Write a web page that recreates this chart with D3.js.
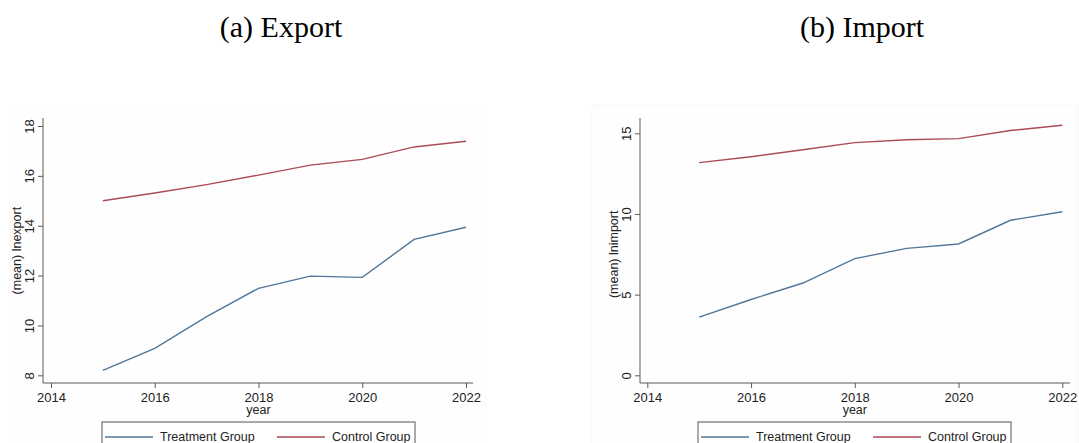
<!DOCTYPE html>
<html>
<head>
<meta charset="utf-8">
<script src="https://cdn.jsdelivr.net/npm/d3@7"></script>
<style>
  body { margin: 0; background: #fff; }
  svg { display: block; }
</style>
</head>
<body>
<svg id="chart" width="1079" height="443"></svg>
<script>
// values
var years = [2015, 2016, 2017, 2018, 2019, 2020, 2021, 2022];
var exportTreat = [8.2, 9.08, 10.35, 11.49, 11.98, 11.93, 13.45, 13.94];
var exportCtrl  = [15.0, 15.31, 15.65, 16.03, 16.43, 16.66, 17.16, 17.39];
var importTreat = [3.61, 4.7, 5.72, 7.23, 7.87, 8.14, 9.61, 10.14];
var importCtrl  = [13.18, 13.55, 13.98, 14.42, 14.6, 14.67, 15.17, 15.5];
var xTicks = [2014, 2016, 2018, 2020, 2022];
var exportTicks = [8, 10, 12, 14, 16, 18];
var importTicks = [0, 5, 10, 15];
var seriesNames = ["Treatment Group", "Control Group"];
var seriesColors = ["#52769a", "#ab4b55"];

var svg = d3.select("#chart");
var axisColor = "#5a5a5a";
var font = "Liberation Sans, Arial, sans-serif";

function panel(opt) {
  var g = svg.append("g");

  // faint graph region (Stata style)
  g.append("rect")
    .attr("x", opt.region[0]).attr("y", opt.region[1])
    .attr("width", opt.region[2]).attr("height", opt.region[3])
    .attr("fill", "#fefefe").attr("stroke", "#f8f8f8");

  var x = d3.scaleLinear().domain([2014, 2022]).range(opt.xRange);
  var y = d3.scaleLinear().domain(opt.yDomain).range(opt.yRange);

  // y axis
  var yAxisG = g.append("g")
    .attr("transform", "translate(" + opt.axisX + ",0)")
    .call(d3.axisLeft(y).tickValues(opt.yTicks).tickSize(5).tickFormat(d3.format("d")));
  yAxisG.select(".domain").remove();
  yAxisG.selectAll(".tick line").attr("stroke", axisColor);
  yAxisG.selectAll(".tick text")
    .attr("transform", "translate(-9,0) rotate(-90)")
    .attr("x", 0).attr("y", 0).attr("dy", 0)
    .attr("text-anchor", "middle")
    .style("font-family", font).style("font-size", "13px").attr("fill", "#222");
  g.append("line")
    .attr("x1", opt.axisX).attr("x2", opt.axisX)
    .attr("y1", opt.axisTop).attr("y2", opt.axisY)
    .attr("stroke", axisColor);

  // x axis
  var xAxisG = g.append("g")
    .attr("transform", "translate(0," + opt.axisY + ")")
    .call(d3.axisBottom(x).tickValues(xTicks).tickSize(5).tickFormat(d3.format("d")));
  xAxisG.select(".domain").remove();
  xAxisG.selectAll(".tick line").attr("stroke", axisColor);
  xAxisG.selectAll(".tick text")
    .attr("y", 19).attr("dy", 0)
    .style("font-family", font).style("font-size", "13px").attr("fill", "#222");
  g.append("line")
    .attr("x1", opt.axisX).attr("x2", opt.axisRight)
    .attr("y1", opt.axisY).attr("y2", opt.axisY)
    .attr("stroke", axisColor);

  // axis titles
  g.append("text")
    .attr("transform", "translate(" + (opt.axisX - 22) + "," + ((opt.yRange[0] + opt.yRange[1]) / 2) + ") rotate(-90)")
    .attr("text-anchor", "middle")
    .style("font-family", font).style("font-size", "12.5px").attr("fill", "#222")
    .text(opt.yTitle);
  g.append("text")
    .attr("x", (opt.xRange[0] + opt.xRange[1]) / 2).attr("y", opt.axisY + 31)
    .attr("text-anchor", "middle")
    .style("font-family", font).style("font-size", "12.5px").attr("fill", "#222")
    .text("year");

  // lines
  var line = d3.line()
    .x(function(d) { return x(d.year); })
    .y(function(d) { return y(d.value); });
  [opt.treat, opt.ctrl].forEach(function(vals, i) {
    var pts = years.map(function(yr, j) { return {year: yr, value: vals[j]}; });
    g.append("path")
      .datum(pts)
      .attr("d", line)
      .attr("fill", "none")
      .attr("stroke", seriesColors[i])
      .attr("stroke-width", 1.4);
  });

  // title
  svg.append("text")
    .attr("x", opt.titleX).attr("y", 37)
    .attr("text-anchor", "middle")
    .style("font-family", "Liberation Serif, Times New Roman, serif")
    .style("font-size", "30px").attr("fill", "#000")
    .text(opt.title);

  // legend
  var lg = g.append("g");
  lg.append("rect")
    .attr("x", opt.legendX).attr("y", 422)
    .attr("width", 313).attr("height", 30)
    .attr("fill", "#fff").attr("stroke", "#555");
  var item = lg.selectAll(".item")
    .data(seriesNames)
    .enter().append("g")
    .attr("class", "item")
    .attr("transform", function(d, i) { return "translate(" + (opt.legendX + 3 + i * 172) + ",0)"; });
  item.append("line")
    .attr("x1", 0).attr("x2", 48)
    .attr("y1", 437).attr("y2", 437)
    .attr("stroke", function(d, i) { return seriesColors[i]; })
    .attr("stroke-width", 1.4);
  item.append("text")
    .attr("x", 55).attr("y", 441)
    .style("font-family", font).style("font-size", "12.5px").attr("fill", "#222")
    .text(function(d) { return d; });
}

panel({
  title: "(a) Export", titleX: 281,
  region: [10, 106, 476, 340],
  xRange: [51, 466], yDomain: [8, 18], yRange: [375.3, 126],
  axisX: 43, axisY: 383, axisTop: 118, axisRight: 473,
  yTicks: exportTicks, yTitle: "(mean) lnexport",
  treat: exportTreat, ctrl: exportCtrl,
  legendX: 102
});

panel({
  title: "(b) Import", titleX: 862,
  region: [592, 105, 486, 340],
  xRange: [647.3, 1062.3], yDomain: [0, 15], yRange: [375.3, 133.3],
  axisX: 640, axisY: 383, axisTop: 118, axisRight: 1070,
  yTicks: importTicks, yTitle: "(mean) lnimport",
  treat: importTreat, ctrl: importCtrl,
  legendX: 698
});
</script>
</body>
</html>
